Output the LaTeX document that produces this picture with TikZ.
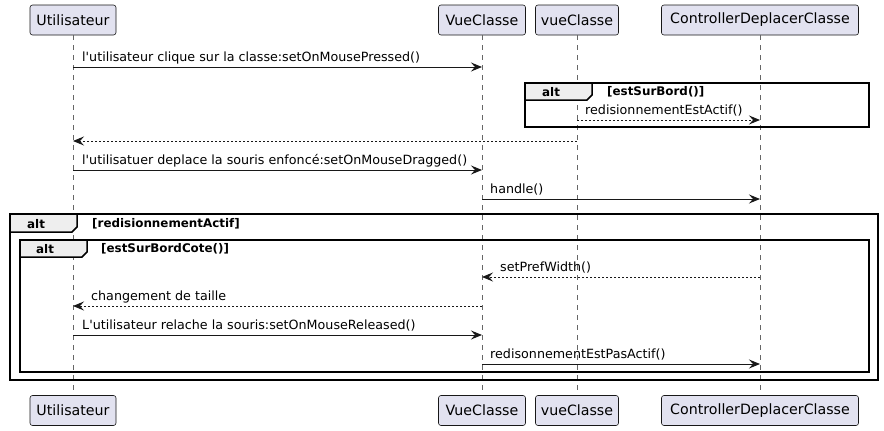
\documentclass[tikz,border=0pt]{standalone}
\usepackage{fontspec}
\setmainfont{DejaVu Sans}[Ligatures=TeXOff]
\usetikzlibrary{arrows.meta}
\definecolor{partfill}{HTML}{E2E2F0}
\definecolor{partline}{HTML}{181818}
\definecolor{tabfill}{HTML}{EEEEEE}
\tikzset{
  part/.style={draw=partline, fill=partfill, line width=0.6pt, rounded corners=2.5pt,
    minimum height=30pt, inner sep=0pt, font=\fontsize{14.2}{16}\selectfont},
  life/.style={draw=gray!80!black, line width=0.6pt, dash pattern=on 5pt off 5pt},
  msg/.style={draw=partline, line width=1pt, -{Stealth[length=11pt,width=9pt,inset=4pt]}},
  ret/.style={msg, dash pattern=on 2pt off 2pt},
  lbl/.style={anchor=base west, inner sep=0pt, font=\fontsize{12.7}{15}\selectfont},
  frm/.style={draw=black, line width=1.5pt},
  tabshape/.style={draw=black, line width=1.5pt, fill=tabfill},
  altlbl/.style={anchor=base west, inner sep=0pt, font=\bfseries\fontsize{11.9}{14}\selectfont},
}
\begin{document}
\begin{tikzpicture}[x=1pt, y=-1pt]
\useasboundingbox (0,0) rectangle (884,431);
\fill[white] (0,0) rectangle (884,431);

% participants
\node[part, minimum width=86pt] (uT) at (73,20) {Utilisateur};
\node[part, minimum width=87pt] (vT) at (482,20) {VueClasse};
\node[part, minimum width=83pt] (wT) at (577,20) {vueClasse};
\node[part, minimum width=197pt] (cT) at (760,20) {ControllerDeplacerClasse};
\node[part, minimum width=86pt] (uB) at (73,410.5) {Utilisateur};
\node[part, minimum width=87pt] (vB) at (482,410.5) {VueClasse};
\node[part, minimum width=83pt] (wB) at (577,410.5) {vueClasse};
\node[part, minimum width=197pt] (cB) at (760,410.5) {ControllerDeplacerClasse};

% lifelines
\draw[life] (uT.south) -- (uB.north);
\draw[life] (vT.south) -- (vB.north);
\draw[life] (wT.south) -- (wB.north);
\draw[life] (cT.south) -- (cB.north);

% y levels
\coordinate (y1) at (0,67);
\coordinate (y2) at (0,120);
\coordinate (y3) at (0,141);
\coordinate (y4) at (0,170);
\coordinate (y5) at (0,199);
\coordinate (y6) at (0,277);
\coordinate (y7) at (0,306);
\coordinate (y8) at (0,335);
\coordinate (y9) at (0,364);

% frame 1: alt [estSurBord()]
\draw[frm] (525,83) rectangle (869,127);
\draw[tabshape] (525,83) -- (592,83) -- (592,95) -- (587,100) -- (525,100) -- cycle;
\node[altlbl] at (542,96) {alt};
\node[altlbl] at (607,95) {[estSurBord()]};

% outer frame
\draw[frm] (10,214) rectangle (878,380);
\draw[tabshape] (10,214) -- (77,214) -- (77,227) -- (72,232) -- (10,232) -- cycle;
\node[altlbl] at (27,228) {alt};
\node[altlbl] at (92,227) {[redisionnementActif]};

% inner frame
\draw[frm] (20,240) rectangle (869,372);
\draw[tabshape] (20,240) -- (87,240) -- (87,252) -- (82,257) -- (20,257) -- cycle;
\node[altlbl] at (36,253) {alt};
\node[altlbl] at (101,252) {[estSurBordCote()]};

% messages
\draw[msg] (uT |- y1) -- (vT |- y1);
\node[lbl] at (82,61.5) {l'utilisateur clique sur la classe:setOnMousePressed()};

\draw[ret] (wT |- y2) -- (cT |- y2);
\node[lbl] at (585,114.5) {redisionnementEstActif()};

\draw[ret] (wT |- y3) -- (uT |- y3);

\draw[msg] (uT |- y4) -- (vT |- y4);
\node[lbl] at (82,164.5) {l'utilisatuer deplace la souris enfoncé:setOnMouseDragged()};

\draw[msg] (vT |- y5) -- (cT |- y5);
\node[lbl] at (490,193.5) {handle()};

\draw[ret] (cT |- y6) -- (vT |- y6);
\node[lbl] at (500,271.5) {setPrefWidth()};

\draw[ret] (vT |- y7) -- (uT |- y7);
\node[lbl] at (91,300.5) {changement de taille};

\draw[msg] (uT |- y8) -- (vT |- y8);
\node[lbl] at (82,329.5) {L'utilisateur relache la souris:setOnMouseReleased()};

\draw[msg] (vT |- y9) -- (cT |- y9);
\node[lbl] at (490,358.5) {redisonnementEstPasActif()};
\end{tikzpicture}
\end{document}
